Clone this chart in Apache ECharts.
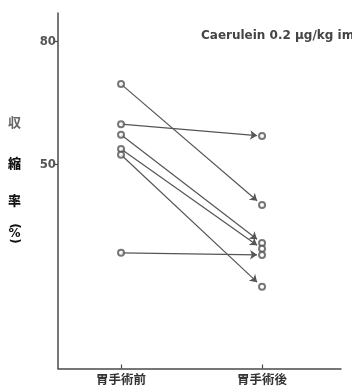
<!DOCTYPE html>
<html>
<head>
<meta charset="utf-8">
<script src="https://cdn.jsdelivr.net/npm/echarts@6/dist/echarts.min.js"></script>
<style>
  html, body { margin: 0; padding: 0; background: #fff; }
  #chart-container { width: 352px; height: 386px; }
</style>
</head>
<body>
<div id="chart-container"></div>
<script>
// groups on the x axis
const categories = ["胃手術前", "胃手術後"];
// contraction rate (%) per patient, before and after surgery
const beforeValues = [69.6, 59.8, 57.2, 53.7, 52.3, 28.3];
const afterValues = [40.0, 56.9, 30.7, 29.3, 20.0, 27.8];
// y tick labels
const yTicks = [50, 80];

const chartDom = document.getElementById("chart-container");
const chart = echarts.init(chartDom);

const ink = "#4a4a4a";

// points at x = 1 (before) and x = 2 (after)
const points = [];
beforeValues.forEach((v, i) => {
  points.push([1, v]);
  points.push([2, afterValues[i]]);
});

// arrows stop a little short of the "after" circle
const stop = 0.965;
const arrows = beforeValues.map((v, i) => {
  const a = afterValues[i];
  return { coords: [[1, v], [1 + stop, v + (a - v) * stop]] };
});

// vertical axis name, written one glyph at a time
const nameFont = "900 13px 'Noto Sans CJK JP'";
const parenStyle = { font: "bold 12px 'DejaVu Sans'", fill: "#111", align: "center", verticalAlign: "middle" };

const option = {
  animation: false,
  title: {
    text: "Caerulein 0.2 \u03bcg/kg im",
    left: 201,
    top: 30,
    padding: 0,
    textStyle: { fontSize: 12, fontWeight: "bold", color: "#444", fontFamily: "DejaVu Sans" },
  },
  grid: { left: 58, right: 11, top: 13, bottom: 17.4 },
  xAxis: {
    type: "value",
    min: 0.553,
    max: 2.56,
    splitLine: { show: false },
    axisLine: { lineStyle: { color: ink, width: 1.5 } },
    axisTick: { show: true, customValues: [1, 2], length: 4, inside: true, lineStyle: { color: ink, width: 1.2 } },
    axisLabel: {
      customValues: [1, 2],
      formatter: (v) => categories[Math.round(v) - 1],
      margin: 5,
      fontSize: 12.5,
      fontWeight: "bold",
      color: "#333",
      fontFamily: "Noto Sans CJK JP",
    },
  },
  yAxis: {
    type: "value",
    min: 0,
    max: 87,
    splitLine: { show: false },
    axisLine: { show: true, lineStyle: { color: ink, width: 1.5 } },
    axisTick: { show: true, customValues: yTicks, length: 5, lineStyle: { color: ink, width: 1.2 } },
    axisLabel: {
      customValues: yTicks,
      margin: 2,
      fontSize: 13,
      fontWeight: "bold",
      color: "#555",
      fontFamily: "DejaVu Sans Condensed",
    },
  },
  graphic: [
    { type: "text", left: 8, top: 116, style: { text: "収", font: "bold 13px 'Noto Sans CJK JP'", fill: "#666" } },
    { type: "text", left: 8, top: 157, style: { text: "縮", font: nameFont, fill: "#111" } },
    { type: "text", left: 8, top: 194, style: { text: "率", font: nameFont, fill: "#111" } },
    { type: "text", x: 14.5, y: 226, rotation: -Math.PI / 2, style: Object.assign({ text: "(" }, parenStyle) },
    { type: "text", x: 14.5, y: 233.5, style: { text: "%", font: "bold 12px 'DejaVu Sans'", fill: "#111", align: "center", verticalAlign: "middle" } },
    { type: "text", x: 14.5, y: 241, rotation: -Math.PI / 2, style: Object.assign({ text: ")" }, parenStyle) },
  ],
  series: [
    {
      type: "lines",
      coordinateSystem: "cartesian2d",
      data: arrows,
      symbol: ["none", "arrow"],
      symbolSize: 7,
      lineStyle: { color: "#555", width: 1.2, opacity: 1 },
      z: 2,
    },
    {
      type: "scatter",
      data: points,
      symbol: "emptyCircle",
      symbolSize: 6,
      itemStyle: { color: "#555", borderColor: "#555", borderWidth: 1 },
      z: 3,
    },
  ],
};

chart.setOption(option);
</script>
</body>
</html>
